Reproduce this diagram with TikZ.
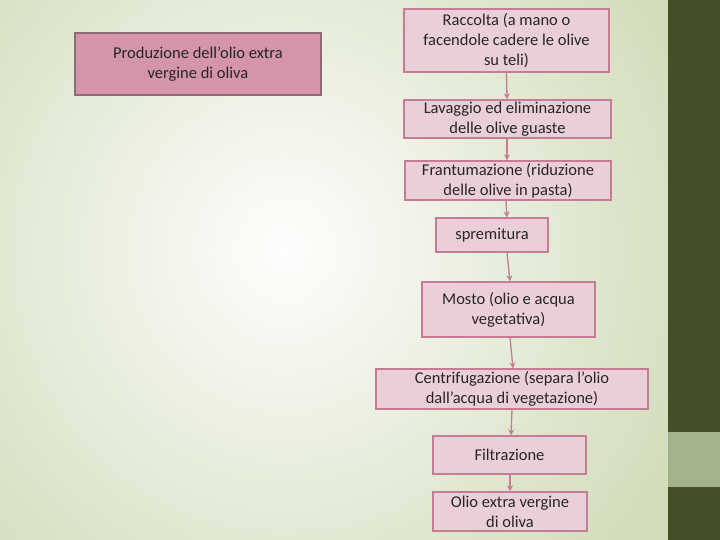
\documentclass[tikz,border=0pt]{standalone}
\usepackage{fontspec}
\usetikzlibrary{arrows.meta}
\setmainfont{Carlito}
\begin{document}
\begin{tikzpicture}[x=1pt,y=-1pt,
 bx/.style={draw=boxline,fill=boxfill,line width=1.3pt,align=center,font=\fontsize{16.5}{20}\selectfont,text=black!85,inner sep=0pt},
 ar/.style={draw=boxline,line width=1.3pt,-{Stealth[length=6pt,width=6pt]}}]
\definecolor{boxline}{HTML}{C77C96}
\definecolor{boxfill}{HTML}{EACFD8}
\definecolor{ttlfill}{HTML}{D495AA}
\definecolor{ttlline}{HTML}{8E6A75}
\definecolor{bgedge}{HTML}{D2DDBC}
\definecolor{dark}{HTML}{434F27}
\definecolor{lightg}{HTML}{A3B28A}
\useasboundingbox (0,0) rectangle (720,540);
\shade[inner color=white!96!bgedge, outer color=bgedge] (-150,-200) rectangle (720,700);
\fill[dark] (668,0) rectangle (720,540);
\fill[lightg] (668,432) rectangle (720,487);
\node[bx,fill=ttlfill,draw=ttlline,line width=1.8pt,minimum width=246pt,minimum height=62pt] (t) at (198,64) {Produzione dell’olio extra\\vergine di oliva};
\node[bx,minimum width=205pt,minimum height=63pt] (b1) at (506.5,40.5) {Raccolta (a mano o\\facendole cadere le olive\\su teli)};
\node[bx,minimum width=207pt,minimum height=38pt] (b2) at (507.5,119) {Lavaggio ed eliminazione\\delle olive guaste};
\node[bx,minimum width=206pt,minimum height=39pt] (b3) at (508,180.5) {Frantumazione (riduzione\\delle olive in pasta)};
\node[bx,minimum width=112pt,minimum height=34pt] (b4) at (492,235) {spremitura};
\node[bx,minimum width=173pt,minimum height=55pt] (b5) at (508.5,309.5) {Mosto (olio e acqua\\vegetativa)};
\node[bx,minimum width=272pt,minimum height=40pt] (b6) at (512,389) {Centrifugazione (separa l’olio\\dall’acqua di vegetazione)};
\node[bx,minimum width=153pt,minimum height=38pt] (b7) at (509.5,455) {Filtrazione};
\node[bx,minimum width=154pt,minimum height=39pt] (b8) at (510,511.5) {Olio extra vergine\\di oliva};
\draw[ar] (b1.south) -- ([xshift=-0.5pt]b2.north);
\draw[ar] ([xshift=-0.5pt]b2.south) -- ([xshift=-1pt]b3.north);
\draw[ar] ([xshift=-2pt]b3.south) -- ([xshift=15pt]b4.north);
\draw[ar] ([xshift=15pt]b4.south) -- ([xshift=1.5pt]b5.north);
\draw[ar] ([xshift=1.5pt]b5.south) -- ([xshift=1pt]b6.north);
\draw[ar] ([xshift=0pt]b6.south) -- ([xshift=1.5pt]b7.north);
\draw[ar] ([xshift=0.5pt]b7.south) -- (b8.north);
\end{tikzpicture}
\end{document}
